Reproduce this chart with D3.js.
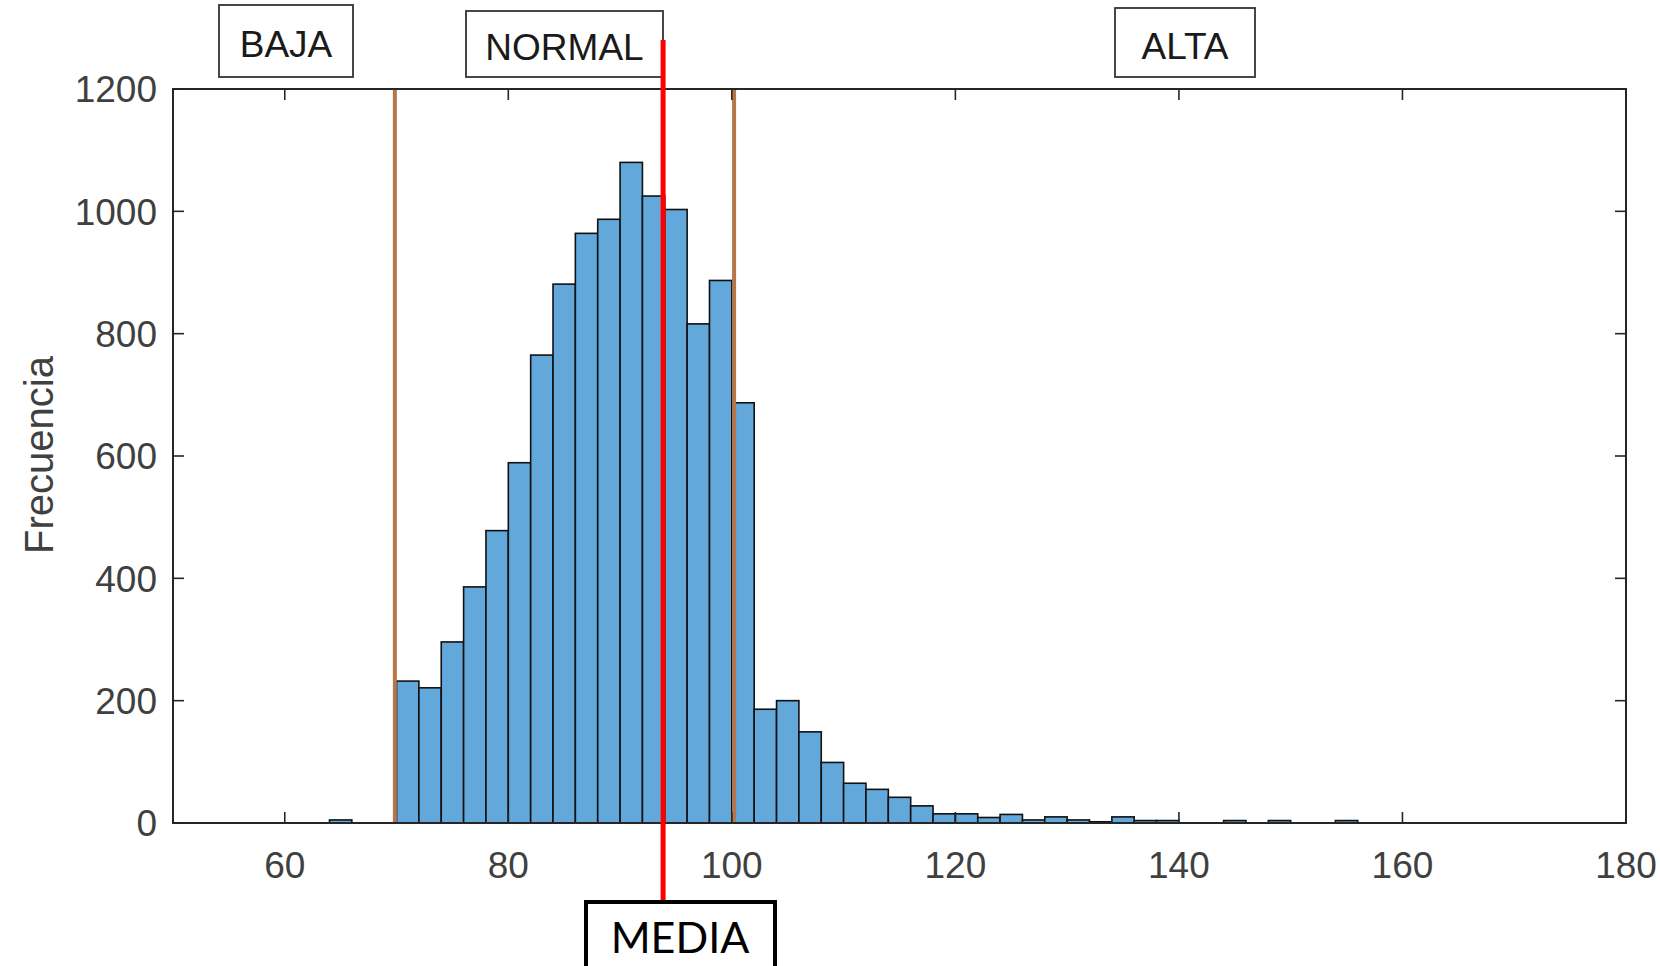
<!DOCTYPE html>
<html>
<head>
<meta charset="utf-8">
<script src="https://cdn.jsdelivr.net/npm/d3@7"></script>
<style>
  body { margin: 0; background: #fff; }
  svg { display: block; }
  .tick-label { font-family: "Liberation Sans", Arial, sans-serif; fill: #404040; }
</style>
</head>
<body>
<svg id="chart"></svg>
<script>
// histogram bins (left edge of each 2-unit bin) and their counts
const binStarts = [64, 66, 68, 70, 72, 74, 76, 78, 80, 82, 84, 86, 88, 90, 92, 94, 96, 98,
    100, 102, 104, 106, 108, 110, 112, 114, 116, 118, 120, 122, 124, 126, 128, 130,
    132, 134, 136, 138, 140, 142, 144, 146, 148, 150, 152, 154];
const counts = [5, 0, 0, 232, 221, 296, 386, 478, 589, 765, 881, 964, 987, 1080, 1025, 1003, 816, 887,
    687, 186, 200, 149, 99, 65, 55, 42, 28, 15, 15, 9, 14, 5, 10, 5,
    2, 10, 4, 4, 0, 0, 4, 0, 4, 0, 0, 4];
const binWidth = 2;

const xTicks = [60, 80, 100, 120, 140, 160, 180];
const yTicks = [0, 200, 400, 600, 800, 1000, 1200];

// threshold lines and the mean
const limits = [69.85, 100.2];
const mean = 93.85;

const zoneLabels = [
    {text: "BAJA", x0: 219, x1: 353, top: 5},
    {text: "NORMAL", x0: 466, x1: 663, top: 11},
    {text: "ALTA", x0: 1115, x1: 1255, top: 8}
];

const width = 1660, height = 966;
const margin = {top: 89, right: 34, bottom: 143, left: 173};

const svg = d3.select("#chart")
    .attr("width", width)
    .attr("height", height);

const x = d3.scaleLinear()
    .domain([50, 180])
    .range([margin.left, width - margin.right]);
const y = d3.scaleLinear()
    .domain([0, 1200])
    .range([height - margin.bottom, margin.top]);

// bars
svg.append("g")
    .selectAll("rect")
    .data(binStarts.map((b, i) => ({b: b, c: counts[i]})).filter(d => d.c > 0))
    .enter()
    .append("rect")
    .attr("x", d => x(d.b))
    .attr("y", d => y(d.c))
    .attr("width", d => x(d.b + binWidth) - x(d.b))
    .attr("height", d => y(0) - y(d.c))
    .attr("fill", "#62a8db")
    .attr("stroke", "#111")
    .attr("stroke-width", 1.6);

// brown threshold lines
svg.append("g")
    .selectAll("line")
    .data(limits)
    .enter()
    .append("line")
    .attr("x1", d => x(d)).attr("x2", d => x(d))
    .attr("y1", y(1200)).attr("y2", y(0))
    .attr("stroke", "#b5764c")
    .attr("stroke-width", 4);

// axis box with inward ticks
const axisColor = "#262626";
svg.append("rect")
    .attr("x", x(50)).attr("y", y(1200))
    .attr("width", x(180) - x(50))
    .attr("height", y(0) - y(1200))
    .attr("fill", "none")
    .attr("stroke", axisColor)
    .attr("stroke-width", 2);

const tickLen = 11;
const tg = svg.append("g").attr("stroke", axisColor).attr("stroke-width", 1.6);
xTicks.forEach(t => {
    tg.append("line").attr("x1", x(t)).attr("x2", x(t)).attr("y1", y(0)).attr("y2", y(0) - tickLen);
    tg.append("line").attr("x1", x(t)).attr("x2", x(t)).attr("y1", y(1200)).attr("y2", y(1200) + tickLen);
});
yTicks.forEach(t => {
    tg.append("line").attr("x1", x(50)).attr("x2", x(50) + tickLen).attr("y1", y(t)).attr("y2", y(t));
    tg.append("line").attr("x1", x(180)).attr("x2", x(180) - tickLen).attr("y1", y(t)).attr("y2", y(t));
});

svg.append("g")
    .selectAll("text")
    .data(xTicks)
    .enter()
    .append("text")
    .attr("class", "tick-label")
    .attr("x", d => x(d))
    .attr("y", 878)
    .attr("text-anchor", "middle")
    .attr("font-size", 37)
    .text(d => d);

svg.append("g")
    .selectAll("text")
    .data(yTicks)
    .enter()
    .append("text")
    .attr("class", "tick-label")
    .attr("x", 157)
    .attr("y", d => y(d))
    .attr("dy", "0.36em")
    .attr("text-anchor", "end")
    .attr("font-size", 37)
    .text(d => d);

svg.append("text")
    .attr("class", "tick-label")
    .attr("transform", "translate(53," + 455 + ") rotate(-90)")
    .attr("text-anchor", "middle")
    .attr("font-size", 40)
    .text("Frecuencia");

// zone labels above the axes
zoneLabels.forEach(z => {
    svg.append("rect")
        .attr("x", z.x0).attr("y", z.top)
        .attr("width", z.x1 - z.x0)
        .attr("height", 77 - z.top)
        .attr("fill", "#fff")
        .attr("stroke", "#333")
        .attr("stroke-width", 1.8);
    svg.append("text")
        .attr("x", (z.x0 + z.x1) / 2)
        .attr("y", z.top + (77 - z.top) / 2 + 3)
        .attr("dy", "0.36em")
        .attr("text-anchor", "middle")
        .attr("font-family", "'Liberation Sans', Arial, sans-serif")
        .attr("font-size", 37)
        .attr("fill", "#1a1a1a")
        .text(z.text);
});

// mean line and its label
svg.append("line")
    .attr("x1", x(mean)).attr("x2", x(mean))
    .attr("y1", 40).attr("y2", 902)
    .attr("stroke", "#ff0000")
    .attr("stroke-width", 5);

svg.append("rect")
    .attr("x", 586).attr("y", 902)
    .attr("width", 189).attr("height", 80)
    .attr("fill", "#fff")
    .attr("stroke", "#000")
    .attr("stroke-width", 4);
svg.append("text")
    .attr("x", 680)
    .attr("y", 953)
    .attr("text-anchor", "middle")
    .attr("font-family", "Lato, 'DejaVu Sans', sans-serif")
    .attr("font-size", 43)
    .attr("fill", "#000")
    .text("MEDIA");
</script>
</body>
</html>
